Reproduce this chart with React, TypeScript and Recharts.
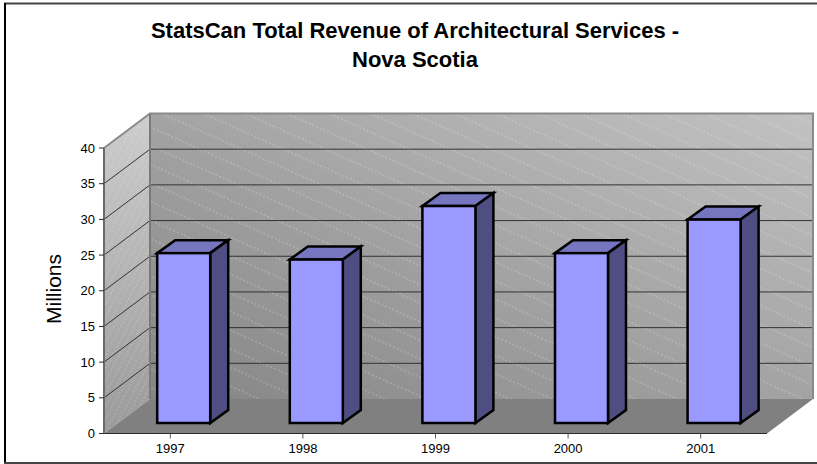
import { BarChart, Bar, XAxis, YAxis, usePlotArea } from 'recharts';

const years = ['1997', '1998', '1999', '2000', '2001'];
const revenue = [23.8, 22.9, 30.4, 23.8, 28.5];
const valueTicks = [0, 5, 10, 15, 20, 25, 30, 35, 40];
const titleLines = ['StatsCan Total Revenue of Architectural Services -', 'Nova Scotia'];

const chartData = years.map((year, i) => ({ year, revenue: revenue[i] }));

const FONT = '"Liberation Sans", Arial, sans-serif';
const MAX_VALUE = 40;

// how far the back wall sits behind the front plane
const DEPTH_X = 46;
const DEPTH_Y = 34.5;

// bars stand in the middle of the floor, and have their own depth
const BAR_SHIFT_X = 13.2;
const BAR_SHIFT_Y = 10.5;
const BAR_DEPTH_X = 18;
const BAR_DEPTH_Y = 13;

function Walls() {
  const area = usePlotArea();
  if (!area) return null;
  const left = area.x;
  const right = area.x + area.width;
  const top = area.y;
  const bottom = area.y + area.height;
  const backLeft = left + DEPTH_X;
  const backRight = right + DEPTH_X;
  const backTop = top - DEPTH_Y;
  const backBottom = bottom - DEPTH_Y;
  const gridValues = valueTicks.filter(v => v > 0 && v < MAX_VALUE);
  const yOf = (v: number) => top + area.height * (1 - v / MAX_VALUE);

  return (
    <g>
      <defs>
        <linearGradient id="backFill" x1="0" y1="1" x2="1" y2="0">
          <stop offset="0" stopColor="#858585" />
          <stop offset="1" stopColor="#c2c2c2" />
        </linearGradient>
        <linearGradient id="sideFill" x1="0" y1="1" x2="0" y2="0">
          <stop offset="0" stopColor="#9a9a9a" />
          <stop offset="1" stopColor="#cdcdcd" />
        </linearGradient>
        <pattern id="backHatch" width="44" height="17" patternUnits="userSpaceOnUse" patternTransform="rotate(24)">
          <line x1="0" y1="4" x2="44" y2="4" stroke="#ffffff" strokeOpacity="0.32" strokeWidth="1" strokeDasharray="2 2" />
        </pattern>
        <pattern id="sideHatch" width="4" height="6" patternUnits="userSpaceOnUse" patternTransform="rotate(-62)">
          <line x1="0" y1="2" x2="4" y2="2" stroke="#ffffff" strokeOpacity="0.22" strokeWidth="1.2" strokeDasharray="2 2" />
        </pattern>
      </defs>

      <polygon points={`${backLeft},${backTop} ${backRight},${backTop} ${backRight},${backBottom} ${backLeft},${backBottom}`} fill="url(#backFill)" />
      <polygon points={`${backLeft},${backTop} ${backRight},${backTop} ${backRight},${backBottom} ${backLeft},${backBottom}`} fill="url(#backHatch)" />
      <polygon points={`${left},${top} ${backLeft},${backTop} ${backLeft},${backBottom} ${left},${bottom}`} fill="url(#sideFill)" />
      <polygon points={`${left},${top} ${backLeft},${backTop} ${backLeft},${backBottom} ${left},${bottom}`} fill="url(#sideHatch)" />
      <polygon points={`${left},${bottom} ${right},${bottom} ${backRight},${backBottom} ${backLeft},${backBottom}`} fill="#808080" />

      {gridValues.map(v => (
        <g key={v} stroke="#333333" strokeWidth="1">
          <line x1={left} y1={yOf(v)} x2={backLeft} y2={yOf(v) - DEPTH_Y} />
          <line x1={backLeft} y1={yOf(v) - DEPTH_Y} x2={backRight} y2={yOf(v) - DEPTH_Y} />
        </g>
      ))}

      {/* wall outlines */}
      <polyline points={`${left},${top} ${backLeft},${backTop} ${backRight},${backTop} ${backRight},${backBottom}`} fill="none" stroke="#8a8a8a" strokeWidth="2" />
      <line x1={backLeft} y1={backTop} x2={backLeft} y2={backBottom} stroke="#7a7a7a" strokeWidth="2" />
    </g>
  );
}

// front face plus top and side faces, pushed back onto the floor
function Bar3D(props: any) {
  const { x, y, width, height } = props;
  const fx = x + BAR_SHIFT_X;
  const fy = y - BAR_SHIFT_Y;
  const fr = fx + width;
  const fb = fy + height;
  return (
    <g stroke="#000000" strokeWidth="2.5" strokeLinejoin="miter">
      <polygon points={`${fx},${fy} ${fx + BAR_DEPTH_X},${fy - BAR_DEPTH_Y} ${fr + BAR_DEPTH_X},${fy - BAR_DEPTH_Y} ${fr},${fy}`} fill="#7676c0" />
      <polygon points={`${fr},${fy} ${fr + BAR_DEPTH_X},${fy - BAR_DEPTH_Y} ${fr + BAR_DEPTH_X},${fb - BAR_DEPTH_Y} ${fr},${fb}`} fill="#4e4e82" />
      <rect x={fx} y={fy} width={width} height={height} fill="#9999ff" />
    </g>
  );
}

export default function App() {
  return (
    <div style={{ position: 'absolute', left: 0, top: 0, width: 817, height: 464, background: '#ffffff' }}>
      <BarChart
        width={817}
        height={464}
        data={chartData}
        margin={{ top: 148, right: 50, bottom: 5.5, left: 60 }}
      >
        <Walls />

        {/* chart frame */}
        <line x1={4} y1={3.5} x2={817} y2={3.5} stroke="#444444" strokeWidth="2" />
        <line x1={5} y1={3} x2={5} y2={464} stroke="#000000" strokeWidth="2" />
        <line x1={4} y1={463} x2={817} y2={463} stroke="#444444" strokeWidth="2" />

        {titleLines.map((line, i) => (
          <text key={line} x={415} y={38 + i * 29} textAnchor="middle" fontFamily={FONT} fontSize={22} fontWeight="bold" fill="#000000">
            {line}
          </text>
        ))}
        <text transform="translate(61 289) rotate(-90)" textAnchor="middle" fontFamily={FONT} fontSize={21} fill="#000000">
          Millions
        </text>

        <XAxis
          dataKey="year"
          height={25}
          interval={0}
          tickSize={5}
          tickMargin={5}
          axisLine={{ stroke: '#2a2a2a', strokeWidth: 1 }}
          tickLine={{ stroke: '#555555' }}
          tick={{ fontFamily: FONT, fontSize: 13, fill: '#000000' }}
        />
        <YAxis
          width={44}
          domain={[0, MAX_VALUE]}
          ticks={valueTicks}
          interval={0}
          tickSize={5}
          tickMargin={4}
          axisLine={{ stroke: '#6a6a6a', strokeWidth: 2 }}
          tickLine={{ stroke: '#2a2a2a' }}
          tick={{ fontFamily: FONT, fontSize: 13, fill: '#000000' }}
        />
        <Bar dataKey="revenue" barSize={53} shape={Bar3D} isAnimationActive={false} />
      </BarChart>
    </div>
  );
}
